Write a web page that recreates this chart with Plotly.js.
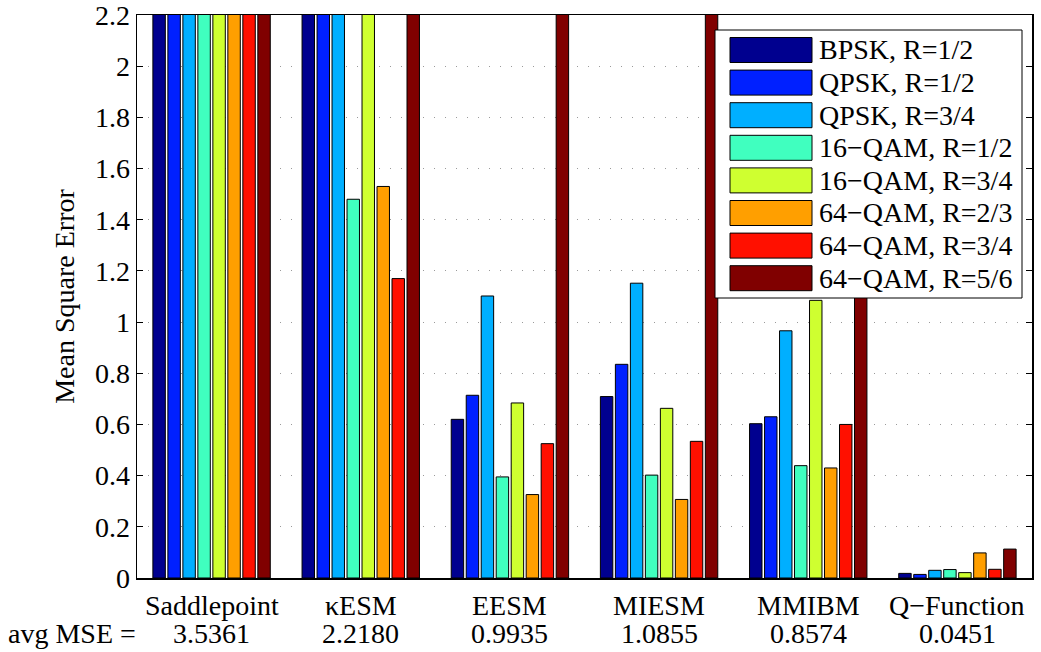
<!DOCTYPE html>
<html>
<head>
<meta charset="utf-8">
<script src="https://cdn.plot.ly/plotly-3.0.1.min.js"></script>
<style>
  html, body { margin: 0; padding: 0; background: #fff; }
  #chart { width: 1041px; height: 652px; }
</style>
</head>
<body>
<div id="chart"></div>
<script>
// Link-abstraction methods on the x axis
const methods = ['Saddlepoint', 'κESM', 'EESM', 'MIESM', 'MMIBM', 'Q\u2212Function'];
const avgMse = ['3.5361', '2.2180', '0.9935', '1.0855', '0.8574', '0.0451'];

// y-axis ticks
const yTickVals = [0, 0.2, 0.4, 0.6, 0.8, 1, 1.2, 1.4, 1.6, 1.8, 2, 2.2];
const yTickText = ['0', '0.2', '0.4', '0.6', '0.8', '1', '1.2', '1.4', '1.6', '1.8', '2', '2.2'];

// MCS series: mean square error per method
const seriesNames = [
  'BPSK, R=1/2', 'QPSK, R=1/2', 'QPSK, R=3/4', '16\u2212QAM, R=1/2',
  '16\u2212QAM, R=3/4', '64\u2212QAM, R=2/3', '64\u2212QAM, R=3/4', '64\u2212QAM, R=5/6'
];
const bpsk12   = [2.6,    2.4,   0.620, 0.709, 0.603, 0.018];
const qpsk12   = [2.9,    2.5,   0.714, 0.835, 0.630, 0.014];
const qpsk34   = [3.4,    2.7,   1.102, 1.152, 0.966, 0.030];
const qam16_12 = [3.0,    1.48,  0.395, 0.402, 0.439, 0.033];
const qam16_34 = [3.9,    2.9,   0.684, 0.663, 1.085, 0.021];
const qam64_23 = [3.5,    1.53,  0.326, 0.307, 0.430, 0.098];
const qam64_34 = [4.0,    1.17,  0.525, 0.534, 0.600, 0.034];
const qam64_56 = [4.9888, 3.064, 3.582, 4.082, 2.106, 0.113];

const seriesValues = [bpsk12, qpsk12, qpsk34, qam16_12, qam16_34, qam64_23, qam64_34, qam64_56];
const seriesColors = ['#00008f', '#0020ff', '#00afff', '#40ffbf', '#cfff30', '#ff9f00', '#ff1000', '#800000'];

const FONT = 'Liberation Serif';
const FS = 28;
const xPos = methods.map((_, i) => i + 1);

const traces = seriesValues.map((vals, s) => ({
  type: 'bar',
  name: seriesNames[s],
  x: xPos,
  y: vals,
  marker: { color: seriesColors[s], line: { color: '#000', width: 1 } },
  showlegend: false,
  hoverinfo: 'x+y+name'
}));

// plot area geometry (px) used to place the hand-built legend and labels
const W = 1041, H = 652;
const M = { l: 137, r: 9, t: 15, b: 74 };
const PW = W - M.l - M.r, PH = H - M.t - M.b;
const px2x = px => (px - M.l) / PW;
const py2y = py => (H - M.b - py) / PH;

const shapes = [];
const annotations = [];

// legend box
shapes.push({
  type: 'rect', xref: 'paper', yref: 'paper', layer: 'above',
  x0: px2x(715), x1: px2x(1022), y0: py2y(298), y1: py2y(30),
  fillcolor: '#fff', line: { color: '#000', width: 1 }
});
seriesNames.forEach((name, i) => {
  const cy = 50 + 32.6 * i;
  shapes.push({
    type: 'rect', xref: 'paper', yref: 'paper', layer: 'above',
    x0: px2x(730), x1: px2x(812), y0: py2y(cy + 12.5), y1: py2y(cy - 12.5),
    fillcolor: seriesColors[i], line: { color: '#000', width: 1 }
  });
  annotations.push({
    xref: 'paper', yref: 'paper', x: px2x(817), y: py2y(cy),
    xanchor: 'left', yanchor: 'middle', showarrow: false,
    text: name, font: { family: FONT, size: FS, color: '#000' }
  });
});

// category names and average MSE row
methods.forEach((m, i) => {
  annotations.push({
    xref: 'x', yref: 'paper', x: xPos[i], y: py2y(605),
    xanchor: 'center', yanchor: 'middle', showarrow: false,
    text: m, font: { family: FONT, size: FS, color: '#000' }
  });
  annotations.push({
    xref: 'x', yref: 'paper', x: xPos[i], y: py2y(633),
    xanchor: 'center', yanchor: 'middle', showarrow: false,
    text: avgMse[i], font: { family: FONT, size: FS, color: '#000' }
  });
});
annotations.push({
  xref: 'paper', yref: 'paper', x: px2x(6), y: py2y(633),
  xanchor: 'left', yanchor: 'middle', showarrow: false,
  text: 'avg MSE =', font: { family: FONT, size: FS, color: '#000' }
});

const layout = {
  width: W, height: H,
  margin: M,
  paper_bgcolor: '#fff', plot_bgcolor: '#fff',
  barmode: 'group', bargap: 0.196, bargroupgap: 0.17,
  font: { family: FONT, size: FS, color: '#000' },
  xaxis: {
    range: [0.5, 6.5], showticklabels: false, ticks: '',
    showgrid: false, zeroline: false,
    showline: true, linecolor: '#000', linewidth: 1.5, mirror: true
  },
  yaxis: {
    range: [0, 2.2], tickmode: 'array', tickvals: yTickVals, ticktext: yTickText,
    ticks: 'inside', ticklen: 6, tickcolor: '#000', tickwidth: 1,
    showline: true, linecolor: '#000', linewidth: 1.5, mirror: 'ticks',
    showgrid: true, gridcolor: '#9a9a9a', gridwidth: 1, griddash: '1px,10px',
    zeroline: false, ticklabeloverflow: 'allow',
    tickfont: { family: FONT, size: FS, color: '#000' },
    title: { text: 'Mean Square Error', font: { family: FONT, size: FS, color: '#000' }, standoff: 12 }
  },
  shapes: shapes,
  annotations: annotations
};

Plotly.newPlot('chart', traces, layout, { displayModeBar: false, staticPlot: true });
</script>
</body>
</html>
